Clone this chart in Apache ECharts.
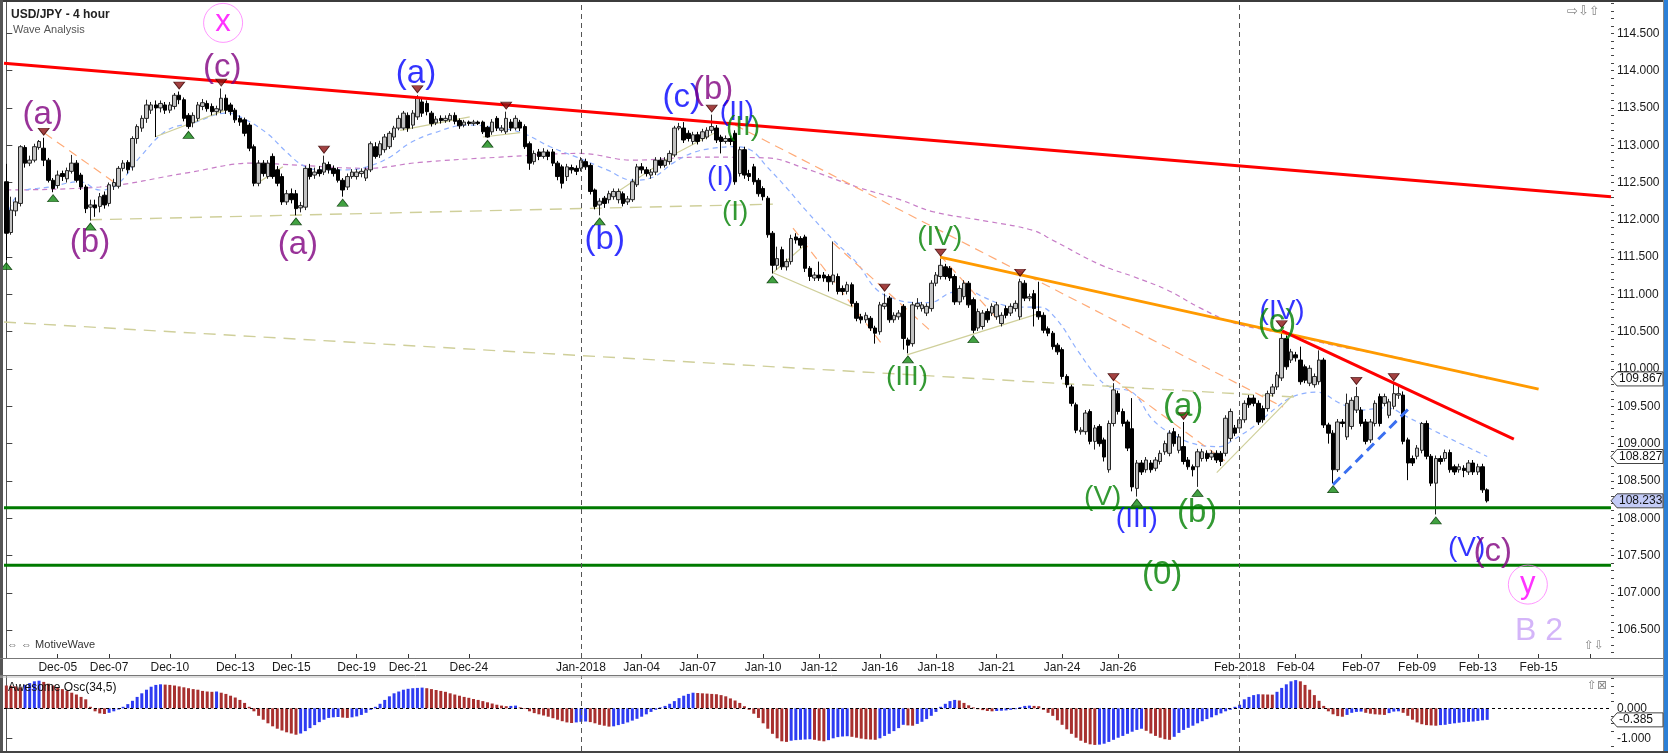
<!DOCTYPE html>
<html><head><meta charset="utf-8">
<script src="https://cdn.jsdelivr.net/npm/echarts@6/dist/echarts.min.js"></script>
<style>html,body{margin:0;padding:0;background:#fff;}#c{width:1668px;height:753px;}</style>
</head><body><div id="c"></div>
<script>
// ---------- DATA ----------
const tickIdx = [11,22,35,49,61,75,86,99,123,136,148,162,174,187,199,212,226,238,264,276,290,302,315,328,339];
const tickLabels = ['Dec-05','Dec-07','Dec-10','Dec-13','Dec-15','Dec-19','Dec-21','Dec-24','Jan-2018','Jan-04','Jan-07','Jan-10','Jan-12','Jan-16','Jan-18','Jan-21','Jan-24','Jan-26','Feb-2018','Feb-04','Feb-07','Feb-09','Feb-13','Feb-15',''];
const priceTicks = [106.5,107,107.5,108,108.5,109,109.5,110,110.5,111,111.5,112,112.5,113,113.5,114,114.5];
const oscTicks = [0,-1];
// [open, close, low, high]
const candles = [
[112.51,111.82,111.46,112.75],[111.83,112.13,111.80,112.31],[112.12,112.24,112.05,112.30],[112.22,112.98,112.18,113.00],[112.97,112.76,112.70,113.00],[112.76,112.80,112.72,112.86],
[112.80,112.98,112.77,113.02],[112.97,113.05,112.94,113.07],[112.96,112.80,112.72,113.10],[112.80,112.53,112.50,112.83],[112.53,112.42,112.37,112.56],[112.46,112.60,112.42,112.66],
[112.62,112.58,112.52,112.66],[112.55,112.66,112.50,112.70],[112.65,112.76,112.62,112.87],[112.76,112.53,112.50,112.80],[112.60,112.44,112.40,112.63],[112.44,112.15,112.09,112.47],
[112.17,112.20,111.99,112.27],[112.20,112.16,112.04,112.27],[112.18,112.31,112.10,112.36],[112.33,112.20,112.15,112.38],[112.22,112.47,112.18,112.50],[112.45,112.50,112.40,112.55],
[112.45,112.69,112.42,112.72],[112.69,112.76,112.65,112.80],[112.77,112.67,112.62,112.80],[112.71,113.09,112.66,113.12],[113.09,113.25,113.02,113.28],[113.23,113.36,113.18,113.40],
[113.36,113.54,113.30,113.61],[113.47,113.54,113.42,113.58],[113.54,113.50,113.11,113.60],[113.50,113.56,113.44,113.60],[113.54,113.47,113.42,113.58],[113.47,113.54,113.43,113.58],
[113.52,113.67,113.48,113.70],[113.67,113.61,113.55,113.72],[113.61,113.36,113.32,113.64],[113.40,113.25,113.22,113.43],[113.30,113.40,113.24,113.44],[113.36,113.54,113.32,113.58],
[113.52,113.57,113.47,113.62],[113.56,113.49,113.45,113.60],[113.52,113.45,113.40,113.56],[113.45,113.49,113.40,113.53],[113.47,113.63,113.43,113.76],[113.63,113.47,113.42,113.68],
[113.54,113.45,113.40,113.57],[113.47,113.34,113.30,113.50],[113.36,113.31,113.26,113.40],[113.34,113.16,113.12,113.37],[113.27,112.96,112.92,113.30],[112.98,112.49,112.45,113.01],
[112.49,112.76,112.45,112.80],[112.76,112.62,112.58,112.80],[112.58,112.76,112.55,112.80],[112.85,112.58,112.55,112.89],[112.67,112.49,112.45,112.72],[112.58,112.24,112.20,112.62],
[112.24,112.35,112.20,112.40],[112.35,112.27,112.22,112.42],[112.35,112.15,112.06,112.40],[112.16,112.19,112.10,112.24],[112.17,112.69,112.13,112.72],[112.69,112.58,112.54,112.75],
[112.60,112.64,112.55,112.70],[112.67,112.62,112.58,112.72],[112.64,112.76,112.60,112.86],[112.74,112.67,112.62,112.78],[112.69,112.62,112.58,112.73],[112.67,112.53,112.50,112.70],
[112.53,112.40,112.31,112.56],[112.44,112.58,112.40,112.62],[112.58,112.64,112.55,112.68],[112.58,112.64,112.54,112.68],[112.62,112.65,112.57,112.69],[112.56,112.67,112.52,112.70],
[112.67,113.02,112.64,113.05],[112.98,112.85,112.82,113.04],[112.87,113.02,112.83,113.06],[112.94,113.11,112.90,113.15],[112.98,113.16,112.95,113.19],[113.11,113.23,113.07,113.26],
[113.23,113.36,113.20,113.40],[113.23,113.43,113.20,113.46],[113.40,113.23,113.18,113.44],[113.27,113.43,113.22,113.47],[113.38,113.63,113.34,113.67],[113.58,113.43,113.38,113.62],
[113.56,113.45,113.40,113.60],[113.43,113.29,113.25,113.46],[113.30,113.35,113.27,113.39],[113.36,113.33,113.29,113.40],[113.33,113.36,113.30,113.40],[113.34,113.40,113.31,113.43],
[113.40,113.32,113.28,113.44],[113.33,113.26,113.22,113.36],[113.27,113.31,113.24,113.34],[113.31,113.29,113.26,113.33],[113.29,113.31,113.26,113.34],[113.31,113.29,113.27,113.33],
[113.31,113.18,113.15,113.33],[113.24,113.11,113.10,113.26],[113.18,113.31,113.14,113.35],[113.36,113.23,113.19,113.39],[113.20,113.23,113.17,113.27],[113.18,113.36,113.15,113.45],
[113.31,113.23,113.19,113.35],[113.23,113.36,113.20,113.40],[113.31,113.23,113.19,113.34],[113.25,112.98,112.95,113.28],[113.02,112.76,112.67,113.05],[112.78,112.89,112.74,112.93],
[112.91,112.85,112.80,112.95],[112.85,112.91,112.82,112.96],[112.91,112.85,112.80,112.94],[112.91,112.76,112.72,112.95],[112.76,112.58,112.53,112.79],[112.71,112.49,112.42,112.74],
[112.58,112.71,112.52,112.75],[112.70,112.67,112.62,112.74],[112.69,112.65,112.60,112.73],[112.69,112.80,112.65,112.84],[112.78,112.71,112.67,112.82],[112.73,112.38,112.34,112.76],
[112.40,112.18,112.14,112.42],[112.20,112.25,112.06,112.29],[112.29,112.22,112.16,112.32],[112.27,112.35,112.22,112.39],[112.31,112.38,112.27,112.42],[112.27,112.38,112.22,112.42],
[112.35,112.22,112.18,112.38],[112.24,112.28,112.20,112.32],[112.27,112.51,112.24,112.55],[112.47,112.71,112.44,112.75],[112.71,112.67,112.62,112.76],[112.67,112.62,112.58,112.71],
[112.60,112.64,112.55,112.68],[112.64,112.80,112.60,112.84],[112.80,112.73,112.69,112.84],[112.73,112.80,112.70,112.84],[112.78,112.89,112.74,112.93],[112.87,113.23,112.84,113.26],
[113.23,113.25,113.20,113.30],[113.23,113.07,113.03,113.31],[113.16,113.09,113.05,113.20],[113.05,113.14,113.01,113.18],[113.14,113.05,113.01,113.18],[113.09,113.18,113.05,113.22],
[113.11,113.20,113.08,113.24],[113.20,113.25,113.16,113.41],[113.23,113.07,113.03,113.27],[113.11,113.05,112.89,113.14],[113.05,113.09,113.02,113.13],[113.09,113.05,113.00,113.13],
[113.16,112.51,112.47,113.20],[112.62,112.94,112.58,112.98],[112.94,112.60,112.55,112.98],[112.62,112.58,112.52,112.67],[112.71,112.51,112.47,112.75],[112.53,112.35,112.31,112.56],
[112.42,112.31,112.26,112.45],[112.29,111.80,111.76,112.32],[111.82,111.39,111.28,111.85],[111.39,111.48,111.33,111.64],[111.60,111.37,111.33,111.64],[111.37,111.44,111.32,111.48],
[111.44,111.75,111.40,111.80],[111.77,111.73,111.68,111.82],[111.75,111.66,111.62,111.78],[111.77,111.35,111.30,111.80],[111.35,111.24,111.18,111.38],[111.22,111.26,111.18,111.30],
[111.26,111.22,111.18,111.44],[111.26,111.22,111.17,111.30],[111.24,111.17,111.04,111.27],[111.17,111.26,111.13,111.71],[111.24,111.04,111.00,111.28],[111.08,111.04,110.99,111.12],
[111.04,111.13,111.00,111.17],[111.13,110.88,110.84,111.16],[110.88,110.68,110.64,110.91],[110.70,110.66,110.61,110.74],[110.66,110.72,110.62,110.76],[110.68,110.55,110.51,110.71],
[110.55,110.48,110.34,110.58],[110.50,110.86,110.46,110.90],[110.84,110.88,110.80,111.01],[110.95,110.66,110.62,110.98],[110.66,110.72,110.62,110.76],[110.70,110.75,110.66,110.79],
[110.84,110.41,110.26,110.87],[110.39,110.32,110.21,110.42],[110.34,110.86,110.30,110.90],[110.84,110.88,110.80,110.95],[110.81,110.86,110.77,110.90],[110.75,110.84,110.71,110.88],
[110.81,111.15,110.77,111.19],[111.15,111.26,111.11,111.30],[111.24,111.39,111.20,111.48],[111.37,111.24,111.20,111.41],[111.35,111.22,111.18,111.38],[111.24,110.90,110.86,111.27],
[110.90,111.08,110.86,111.12],[110.97,111.15,110.93,111.19],[111.15,110.86,110.82,111.18],[110.93,110.52,110.48,110.96],[110.55,110.77,110.51,110.81],[110.57,110.75,110.53,110.79],
[110.77,110.66,110.62,110.81],[110.75,110.84,110.71,110.88],[110.70,110.86,110.66,110.90],[110.61,110.72,110.57,110.76],[110.81,110.72,110.68,110.85],[110.75,110.84,110.71,110.88],
[110.81,110.88,110.77,110.92],[110.70,111.17,110.66,111.21],[111.15,110.95,110.91,111.19],[110.95,110.97,110.91,111.01],[111.01,110.81,110.57,111.06],[110.77,110.70,110.66,111.17],
[110.72,110.52,110.48,110.76],[110.54,110.48,110.44,110.57],[110.48,110.30,110.26,110.51],[110.32,110.23,110.19,110.35],[110.26,109.90,109.86,110.29],[109.90,109.79,109.75,109.93],
[109.76,109.54,109.50,109.79],[109.52,109.18,109.14,109.55],[109.16,109.18,109.12,109.22],[109.16,109.41,109.12,109.45],[109.43,109.03,108.99,109.46],[109.03,109.21,108.92,109.25],
[109.23,109.00,108.96,109.26],[109.05,108.82,108.76,109.08],[108.65,109.27,108.61,109.31],[109.27,109.72,109.23,109.81],[109.67,109.43,109.39,109.71],[109.43,109.27,109.23,109.47],
[109.29,108.94,108.90,109.32],[109.20,108.42,108.36,109.61],[108.40,108.74,108.29,108.78],[108.74,108.62,108.58,108.78],[108.65,108.78,108.61,108.82],[108.74,108.65,108.61,108.78],
[108.67,108.78,108.63,108.82],[108.76,108.87,108.72,108.91],[108.89,109.00,108.85,109.04],[108.87,109.14,108.83,109.18],[109.16,109.00,108.96,109.21],[108.91,109.09,108.87,109.13],
[108.96,108.76,108.72,109.29],[108.78,108.69,108.65,108.82],[108.69,108.65,108.56,108.72],[108.69,108.89,108.42,108.93],[108.80,108.89,108.76,108.93],[108.87,108.80,108.76,108.91],
[108.82,108.87,108.78,108.91],[108.87,108.78,108.74,108.91],[108.87,108.76,108.70,108.90],[108.87,109.34,108.83,109.38],[109.07,109.43,109.03,109.47],[109.21,109.14,109.10,109.25],
[109.21,109.32,109.17,109.36],[109.32,109.54,109.28,109.58],[109.61,109.52,109.48,109.65],[109.61,109.54,109.50,109.65],[109.54,109.29,109.25,109.58],[109.47,109.32,109.28,109.51],
[109.47,109.67,109.43,109.71],[109.67,109.76,109.63,109.80],[109.76,109.92,109.72,109.96],[109.88,110.41,109.84,110.52],[110.41,110.03,109.99,110.45],[110.12,110.23,110.08,110.27],
[110.19,110.15,110.10,110.23],[110.12,109.83,109.79,110.30],[110.03,109.85,109.81,110.06],[109.81,110.01,109.77,110.05],[109.79,109.90,109.75,109.94],[109.83,110.12,109.79,110.25],
[110.12,109.25,109.21,110.15],[109.25,109.14,109.00,109.28],[109.14,108.65,108.47,109.18],[108.65,109.29,108.62,109.33],[109.29,109.27,109.22,109.33],[109.09,109.54,109.05,109.67],
[109.23,109.58,109.19,109.62],[109.45,109.63,109.41,109.76],[109.45,109.27,109.23,109.49],[109.29,109.03,108.99,109.33],[109.05,109.29,109.01,109.33],[109.27,109.54,109.23,109.58],
[109.63,109.27,109.23,109.67],[109.54,109.63,109.50,109.67],[109.38,109.56,109.34,109.60],[109.50,109.67,109.46,109.81],[109.65,109.67,109.60,109.78],[109.65,109.03,108.99,109.70],
[109.05,108.74,108.51,109.08],[108.80,108.74,108.70,108.84],[108.83,108.94,108.79,108.98],[108.91,109.27,108.87,109.29],[109.27,108.83,108.79,109.31],[108.83,108.47,108.43,108.86],
[108.47,108.80,108.05,108.84],[108.80,108.76,108.72,108.84],[108.80,108.88,108.76,108.92],[108.88,108.65,108.61,108.92],[108.69,108.62,108.58,108.72],[108.65,108.69,108.61,108.73],
[108.67,108.64,108.55,108.71],[108.62,108.74,108.58,108.78],[108.74,108.62,108.58,108.78],[108.62,108.69,108.58,108.73],[108.69,108.38,108.34,108.73],[108.38,108.233,108.21,108.40]
];
// Awesome Oscillator (34,5), one value per candle
const aoValues = [
0.76,0.75,0.73,0.70, 0.78,0.84,0.90,0.92,
0.88,0.82,0.76,0.70,0.64,0.58,0.52,0.46,0.38,0.30,
0.05,-0.10,-0.17,-0.19,-0.15,-0.10,-0.04,
0.05,0.14,0.25,0.38,0.50,0.62,0.72,0.78,0.80,
0.79,0.78,0.76,0.73,0.70,0.67,0.64,0.62,0.58,0.56,0.55,
0.56,0.52,0.48,0.42,0.36,0.28,0.18,0.05,
-0.10,-0.25,-0.38,-0.50,-0.60,-0.68,-0.74,-0.80,-0.84,-0.88,
-0.84,-0.76,-0.66,-0.56,-0.46,
-0.38,-0.32,-0.30,-0.29,-0.31,-0.32,-0.30,-0.27,-0.22,-0.15,
-0.05,0.05,0.15,0.28,0.40,0.50,0.56,0.62,0.65,0.67,0.68,0.69,
0.67,0.64,0.61,0.58,0.55,0.50,0.46,0.42,0.38,0.35,0.31,0.28,0.24,0.20,0.16,0.12,0.09,0.07,
0.08,0.09,0.03,-0.02,
-0.10,-0.16,-0.20,-0.24,-0.28,-0.33,-0.38,-0.43,-0.47,-0.49,
-0.47,-0.45,-0.44,-0.46,-0.50,-0.55,-0.58,-0.61,-0.60,
-0.56,-0.52,-0.47,-0.41,-0.35,-0.28,-0.20,-0.12,
-0.05,0.03,0.08,0.15,0.24,0.34,0.42,0.48,0.52,
0.51,0.50,0.49,0.48,0.47,0.44,0.40,0.33,0.26,0.18,0.07,
-0.05,-0.18,-0.32,-0.50,-0.68,-0.85,-1.00,-1.10,-1.12,
-1.08,-1.06,-1.05,-1.04,-1.03,
-1.05,-1.08,-1.10,
-1.06,-1.00,-0.96,-0.94,-0.93,
-0.95,-0.98,-1.01,-1.03,-1.04,-1.05,
-1.00,-0.92,-0.85,-0.76,-0.66,-0.55,
-0.57,-0.58,
-0.52,-0.45,-0.36,-0.25,-0.12,
0.05,0.15,0.24,0.28,
0.26,0.18,0.10,0.03,-0.03,
-0.06,-0.09,-0.10,-0.09,-0.08,-0.07,-0.05,-0.03,
0.04,0.08,0.09,0.08,0.07,
-0.05,-0.15,-0.25,-0.40,-0.55,-0.70,-0.85,-0.98,-1.08,-1.15,-1.20,-1.22,
-1.21,-1.18,-1.12,-1.05,-0.98,-0.92,-0.85,-0.78,-0.72,-0.68,
-0.75,-0.84,-0.92,-0.98,-1.03,-1.05,
-0.95,-0.82,-0.72,-0.65,-0.58,-0.50,-0.43,-0.36,-0.30,-0.23,-0.17,-0.10,-0.05,0.05,
0.12,0.30,0.38,0.44,0.47,
0.465,0.46,0.455,
0.55,0.68,0.80,0.90,0.94,
0.90,0.78,0.62,0.44,0.25,0.08,
-0.10,-0.20,-0.26,-0.28,-0.22,-0.15,-0.12,-0.11,
-0.15,-0.18,-0.20,-0.21,-0.22,
-0.16,-0.11,-0.10,
-0.15,-0.25,-0.38,-0.47,-0.53,-0.56,-0.57,-0.58,
-0.56,-0.55,-0.52,-0.50,-0.48,-0.46,-0.45,-0.44,-0.42,-0.40,-0.385
];
// moving averages read as [candle index, price]
const blueMA = [[0,112.02],[2.9,112.36],[9.3,112.44],[15.8,112.51],[20,112.40],[23.7,112.47],[28.6,112.84],[34.4,113.20],[40,113.30],[47.2,113.43],[50.7,113.36],[55.8,113.16],[60.1,112.90],[63.5,112.73],[67.1,112.67],[72.9,112.67],[77.2,112.71],[82.1,112.84],[86.4,113.03],[91.3,113.16],[98.6,113.27],[105.7,113.23],[110.6,113.16],[116.4,112.98],[122.1,112.84],[128.6,112.67],[134.1,112.53],[138.4,112.57],[142.7,112.76],[147,112.90],[151.3,112.96],[155.5,112.98],[159.2,112.94],[163,112.70],[167,112.43],[171.4,112.11],[177,111.73],[182.1,111.42],[186.4,111.06],[190.6,110.93],[194.9,110.89],[197.7,110.89],[202,111.02],[205.6,111.06],[209,110.97],[213.3,110.86],[217,110.83],[221.2,110.83],[224.9,110.66],[229.2,110.26],[233.4,109.90],[236.2,109.76],[241.2,109.68],[245.4,109.32],[250.6,109.09],[255.5,108.98],[259.8,108.96],[262.6,109.05],[266.8,109.22],[272,109.49],[275.4,109.63],[280.5,109.69],[285.5,109.54],[289.7,109.45],[295.5,109.48],[299.8,109.36],[305.4,109.18],[309.6,109.05],[317,108.827]];
const purpleMA = [[0,112.40],[20,112.44],[38.7,112.63],[52.8,112.76],[62.9,112.73],[77.2,112.69],[88.5,112.77],[105.7,112.84],[122.8,112.89],[134.1,112.80],[148.5,112.84],[162.8,112.83],[170.9,112.69],[182.1,112.44],[191.3,112.27],[198.3,112.11],[210,111.98],[219.7,111.86],[223.9,111.73],[234.1,111.40],[241.2,111.24],[248.5,111.06],[255.5,110.82],[262.6,110.62],[269.8,110.52],[273.3,110.48],[285.5,110.30],[298.3,110.15],[317,109.867]];
// drawn trend lines [index, price]
const redTrendTop = [[-0.5,114.10],[343.5,112.31]];
const orangeTrend = [[199.9,111.50],[328.0,109.73]];
const redTrendShort = [[273.1,110.51],[322.7,109.06]];
const blueDashTrend = [[284.0,108.45],[300.7,109.50]];
const supportLevels = [108.14, 107.37];
const orangeGuides = [
 [[8.2,113.16],[23.4,112.49]],
 [[156.0,113.27],[273.3,109.49]],
 [[168.4,111.89],[187.6,110.32]],
 [[177.0,111.69],[197.7,110.52]],
 [[199.8,111.53],[212.7,110.63]],
 [[236.9,109.87],[260.8,108.77]]
];
const khakiDashed = [
 [[-0.5,110.63],[276.9,109.62]],
 [[17.9,112.00],[164.1,112.21]]
];
const khakiZigzag = [
 [[31.8,113.11],[48.5,113.51]],
 [[53.7,112.49],[59.2,112.71]],
 [[84.3,113.20],[99.2,113.38]],
 [[102,113.11],[110,113.17]],
 [[125.6,112.16],[142.7,112.87],[152.1,113.18]],
 [[164.1,111.29],[171.4,111.69]],
 [[164.1,111.29],[181.2,110.83]],
 [[192.8,110.19],[221.3,110.75]],
 [[259.1,108.61],[275.4,109.65]]
];
const swingHighIdx = [8,37,46,68,88,107,151,188,200,217,237,252,273,289,297];
const swingLowIdx = [0,10,18,39,62,72,103,127,164,193,207,242,255,284,306];
// wave labels: [text, candle index, price, colour group]
const waveLabels = [
 ['(c)',46.2,114.03,'purple'],['(a)',7.8,113.40,'purple'],['(b)',17.9,111.69,'purple'],['(a)',62.4,111.66,'purple'],
 ['(a)',87.7,113.95,'blue'],['(b)',128.1,111.73,'blue'],['(c)',144.6,113.63,'blue'],['(b)',151.3,113.74,'purple'],
 ['(II)',156.4,113.44,'blue'],['(II)',157.7,113.24,'green'],['(I)',152.8,112.57,'blue'],['(I)',156.0,112.10,'green'],
 ['(IV)',199.8,111.77,'green'],['(III)',192.8,109.89,'green'],['(V)',234.7,108.28,'green'],['(III)',242.0,107.98,'blue'],
 ['(a)',251.9,109.49,'green'],['(b)',254.9,108.07,'green'],['(0)',247.4,107.24,'green'],
 ['(IV)',273.1,110.77,'blue'],['(c)',272.0,110.62,'green'],['(V)',312.6,107.60,'blue'],['(c)',318.2,107.55,'purple'],
 ['B 2',328.1,106.48,'lavender']
];
const circledLabels = [['x',46.4,114.64],['y',325.7,107.11]];

// ---------- STYLE / LAYOUT ----------
const N = 344;
const FONT = 'Liberation Sans, Arial, sans-serif';
const colors = {purple:'#800080', blue:'#0000ff', green:'#008000', lavender:'#c9a3f7'};
const cats = Array.from({length:N}, (_, i) => { const k = tickIdx.indexOf(i); return k >= 0 ? tickLabels[k] : ''; });
const tickSet = new Set(tickIdx);
const minorPrice = []; for (let k = 1062; k <= 1149; k++) minorPrice.push(k / 10);
const minorOsc = [-1.25,-0.75,-0.5,-0.25,0.25,0.5,0.75,1.0];
const lastIdx = candles.length - 1;

function lineSeries(data, color, width, type, z, smooth) {
  return {type:'line', xAxisIndex:1, yAxisIndex:0, data:data, symbol:'none', smooth:smooth || false, silent:true, z:z,
    lineStyle:{color:color, width:width, type:type}, animation:false};
}

const series = [];
// MAs
series.push(lineSeries(purpleMA, '#c77dc7', 1.2, [5,4], 1, 0.4));
series.push(lineSeries(blueMA, '#8fb0ff', 1.2, [5,4], 1, 0.4));
// khaki
khakiDashed.forEach(d => series.push(lineSeries(d, '#cfcf9a', 1.4, [12,8], 1)));
khakiZigzag.forEach(d => series.push(lineSeries(d, '#cfcf9a', 1.2, 'solid', 1)));
orangeGuides.forEach(d => series.push(lineSeries(d, '#ffab78', 1.2, [9,6], 1)));
// candles
series.push({type:'candlestick', xAxisIndex:0, yAxisIndex:0, data:candles, barWidth:4, z:3,
  itemStyle:{color:'#c2c2c2', color0:'#000000', borderColor:'#262626', borderColor0:'#000000', borderWidth:1},
  markLine:{symbol:'none', silent:true, label:{show:false}, animation:false,
    lineStyle:{type:[5,4], color:'#555', width:1}, data:[{xAxis:123},{xAxis:264}]}});
// support lines
supportLevels.forEach(p => series.push(lineSeries([[-0.5,p],[N-0.5,p]], '#007a00', 3, 'solid', 4)));
// trend lines
series.push(lineSeries(redTrendTop, '#ff0000', 3, 'solid', 4));
series.push(lineSeries(orangeTrend, '#ff9a00', 3, 'solid', 4));
series.push(lineSeries(redTrendShort, '#ff0000', 3, 'solid', 4));
series.push(lineSeries(blueDashTrend, '#3a6ff0', 3, [10,6], 4));
// swing triangles
series.push({type:'scatter', xAxisIndex:1, yAxisIndex:0, z:6, silent:true,
  symbol:'path://M0,0L10,0L5,7Z', symbolSize:[11,7], symbolOffset:[0,-6],
  itemStyle:{color:'#8b1111', borderColor:'#3a0000', borderWidth:0.8},
  data: swingHighIdx.map(i => [i, candles[i][3]])});
series.push({type:'scatter', xAxisIndex:1, yAxisIndex:0, z:6, silent:true,
  symbol:'path://M5,0L10,7L0,7Z', symbolSize:[11,7], symbolOffset:[0,6],
  itemStyle:{color:'#128a12', borderColor:'#003300', borderWidth:0.8},
  data: swingLowIdx.map(i => [i, candles[i][2]])});
// wave labels
series.push({type:'scatter', xAxisIndex:1, yAxisIndex:0, z:8, silent:true, symbolSize:1,
  itemStyle:{color:'rgba(0,0,0,0)'},
  label:{show:true, position:'inside', formatter:'{b}', fontFamily:FONT},
  data: waveLabels.map(w => {
    const roman = /[IV]/.test(w[0]);
    const size = w[3] === 'lavender' ? 32 : (roman ? 28 : 33);
    return {name:w[0], value:[w[1], w[2]], label:{color:colors[w[3]], fontSize:size}};
  })});
series.push({type:'scatter', xAxisIndex:1, yAxisIndex:0, z:8, silent:true, symbol:'circle', symbolSize:39,
  itemStyle:{color:'rgba(255,255,255,0)', borderColor:'#ff7aff', borderWidth:1},
  label:{show:true, position:'inside', formatter:'{b}', color:'#ff00ff', fontSize:31, fontFamily:FONT, padding:[0,0,4,0]},
  data: circledLabels.map(c => ({name:c[0], value:[c[1], c[2]]}))});
// oscillator
series.push({type:'bar', xAxisIndex:2, yAxisIndex:2, barWidth:3, z:2, silent:true,
  data: aoValues.map((v, i) => ({value:v, itemStyle:{color: (i > 0 && v >= aoValues[i-1]) ? '#2e3cf2' : '#a8302f'}})),
  markLine:{symbol:'none', silent:true, label:{show:false}, animation:false,
    data:[{xAxis:123, lineStyle:{type:[5,4], color:'#555', width:1}},{xAxis:264, lineStyle:{type:[5,4], color:'#555', width:1}},
          {yAxis:0, lineStyle:{type:[3,3], color:'#000', width:1}}]}});

const option = {
  animation:false,
  backgroundColor:'#ffffff',
  grid:[{left:4, top:2, width:1607, height:656}, {left:4, top:676, width:1607, height:75}],
  xAxis:[
    {type:'category', gridIndex:0, data:cats, boundaryGap:true,
     axisLine:{show:true, lineStyle:{color:'#666', width:1}},
     axisTick:{show:true, alignWithLabel:true, inside:true, length:4, interval:(i) => tickSet.has(i), lineStyle:{color:'#333'}},
     axisLabel:{interval:0, margin:4, fontSize:12, color:'#1a1a1a', fontFamily:FONT},
     splitLine:{show:false}},
    {type:'value', gridIndex:0, min:-0.5, max:N-0.5, show:false},
    {type:'category', gridIndex:1, data:cats, boundaryGap:true, show:false},
    {type:'value', gridIndex:1, min:-0.5, max:N-0.5, show:false}
  ],
  yAxis:[
    {type:'value', gridIndex:0, position:'right', min:106.126, max:114.92, scale:true,
     axisLine:{show:true, lineStyle:{color:'#555'}},
     axisTick:{show:true, customValues:priceTicks, length:6, lineStyle:{color:'#444'}},
     axisLabel:{show:true, customValues:priceTicks, formatter:v => v.toFixed(3), margin:6, fontSize:12, color:'#1a1a1a', fontFamily:FONT},
     splitLine:{show:false}},
    {type:'value', gridIndex:0, position:'right', min:106.126, max:114.92, scale:true,
     axisLine:{show:false}, axisTick:{show:true, customValues:minorPrice, length:3, lineStyle:{color:'#444'}},
     axisLabel:{show:false}, splitLine:{show:false}},
    {type:'value', gridIndex:1, position:'right', min:-1.423, max:1.077, scale:true,
     axisLine:{show:true, lineStyle:{color:'#555'}},
     axisTick:{show:true, customValues:oscTicks, length:6, lineStyle:{color:'#444'}},
     axisLabel:{show:true, customValues:oscTicks, formatter:v => v.toFixed(3), margin:6, fontSize:12, color:'#1a1a1a', fontFamily:FONT},
     splitLine:{show:false}},
    {type:'value', gridIndex:1, position:'right', min:-1.423, max:1.077, scale:true,
     axisLine:{show:false}, axisTick:{show:true, customValues:minorOsc, length:3, lineStyle:{color:'#444'}},
     axisLabel:{show:false}, splitLine:{show:false}}
  ],
  series:series
};

const chart = echarts.init(document.getElementById('c'), null, {renderer:'canvas'});
chart.setOption(option);

function tag(axisIdx, value, text, fill) {
  const y = chart.convertToPixel({yAxisIndex:axisIdx}, value);
  const x0 = 1611, x1 = 1663, h = 7;
  return [
    {type:'polygon', z:100, shape:{points:[[x0,y],[x0+6,y-h],[x1,y-h],[x1,y+h],[x0+6,y+h]]},
     style:{fill:fill, stroke:'#444', lineWidth:1}},
    {type:'text', z:101, x:x0+8, y:y, style:{text:text, fill:'#111', font:'12px ' + FONT, textVerticalAlign:'middle'}}
  ];
}
const g = [];
// frame
g.push({type:'rect', z:90, shape:{x:0, y:0, width:1668, height:2}, style:{fill:'#3c3c3c'}});
g.push({type:'rect', z:90, shape:{x:0, y:0, width:3, height:753}, style:{fill:'#555'}});
g.push({type:'rect', z:90, shape:{x:1663, y:0, width:1, height:753}, style:{fill:'#888'}});
g.push({type:'rect', z:90, shape:{x:1664, y:0, width:4, height:753}, style:{fill:'#2b7fd6'}});
g.push({type:'line', z:90, shape:{x1:0, y1:658.5, x2:1663, y2:658.5}, style:{stroke:'#777', lineWidth:1}});
g.push({type:'line', z:90, shape:{x1:0, y1:675.5, x2:1663, y2:675.5}, style:{stroke:'#777', lineWidth:1}});
g.push({type:'line', z:90, shape:{x1:0, y1:677, x2:1663, y2:677}, style:{stroke:'#bbb', lineWidth:1}});
g.push({type:'rect', z:90, shape:{x:0, y:751, width:1668, height:2}, style:{fill:'#444'}});
// texts
g.push({type:'text', z:95, x:11, y:15, style:{text:'USD/JPY - 4 hour', fill:'#222', font:'bold 12px ' + FONT, textVerticalAlign:'middle'}});
g.push({type:'text', z:95, x:13, y:30, style:{text:'Wave Analysis', fill:'#555', font:'11px ' + FONT, textVerticalAlign:'middle'}});
g.push({type:'text', z:95, x:7, y:645, style:{text:'\u21d4 \u21d4 MotiveWave', fill:'#333', font:'11px ' + FONT, textVerticalAlign:'middle'}});
g.push({type:'text', z:95, x:1567, y:12, style:{text:'\u21e8\u21e9\u21e7', fill:'#888', font:'13px DejaVu Sans', textVerticalAlign:'middle'}});
g.push({type:'text', z:95, x:1584, y:646, style:{text:'\u21e7\u21e9', fill:'#888', font:'12px DejaVu Sans', textVerticalAlign:'middle'}});
g.push({type:'text', z:95, x:1587, y:686, style:{text:'\u21e7\u22a0', fill:'#888', font:'12px DejaVu Sans', textVerticalAlign:'middle'}});
g.push({type:'text', z:95, x:8, y:688, style:{text:'Awesome Osc(34,5)', fill:'#111', font:'12px ' + FONT, textVerticalAlign:'middle'}});
// price tags
g.push(...tag(0, purpleMA[purpleMA.length-1][1], purpleMA[purpleMA.length-1][1].toFixed(3), '#ffffff'));
g.push(...tag(0, blueMA[blueMA.length-1][1], blueMA[blueMA.length-1][1].toFixed(3), '#ffffff'));
g.push(...tag(0, candles[lastIdx][1], candles[lastIdx][1].toFixed(3), '#c3cbf7'));
g.push(...tag(2, aoValues[aoValues.length-1], aoValues[aoValues.length-1].toFixed(3), '#ffffff'));
if (candles.length !== aoValues.length) {
  g.push({type:'text', z:200, x:600, y:20, style:{text:'LEN ' + candles.length + ' / ' + aoValues.length, fill:'#f00', font:'14px sans-serif'}});
}
chart.setOption({graphic:g});
</script>
</body></html>
